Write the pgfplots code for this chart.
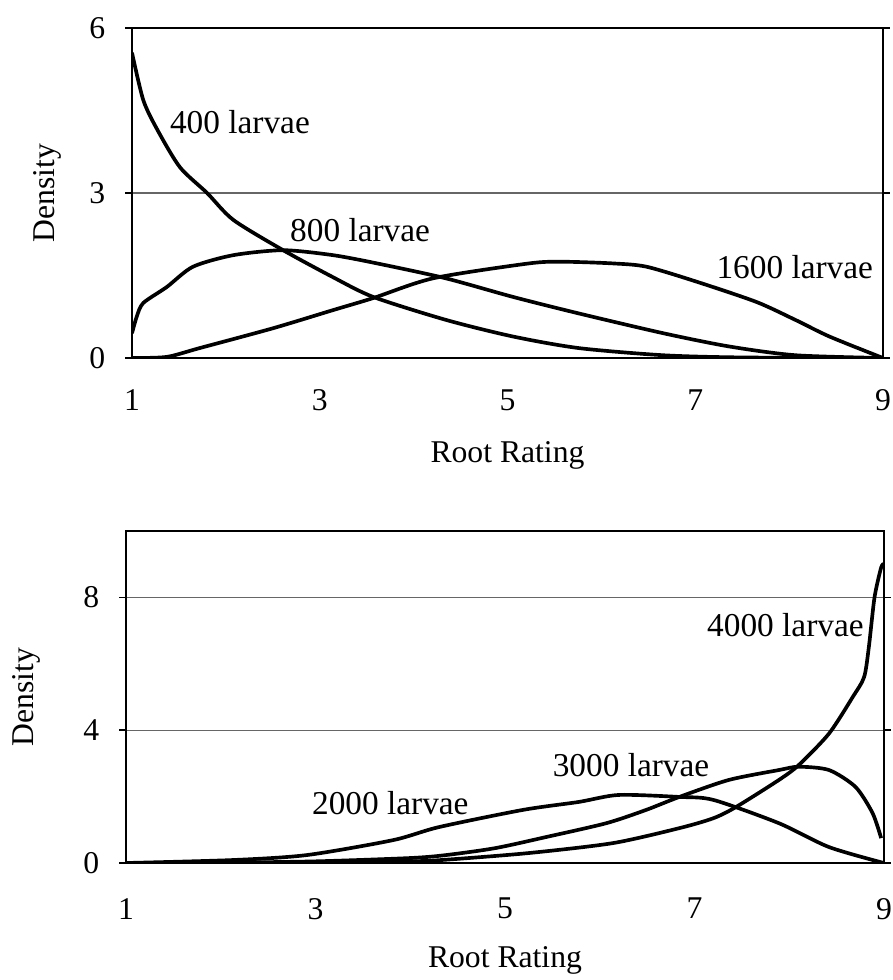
\documentclass[border=0pt]{standalone}
\usepackage{fontspec}
\setmainfont{Liberation Serif}
\usepackage{pgfplots}
\pgfplotsset{compat=1.18}

\tikzset{
  lab/.style={font=\fontsize{10}{12}\selectfont},
  crv/.style={black, line width=1.1pt, mark=none, smooth, tension=0.45},
}
\pgfplotsset{
  dens/.style={
    scale only axis,
    xmin=1, xmax=9, ymin=0,
    xtick={1,3,5,7,9},
    ymajorgrids,
    grid style={line width=0.35pt, black!60},
    axis line style={line width=0.7pt},
    tick style={line width=0.5pt, black},
    tick align=outside,
    major tick length=2pt,
    xtick style={draw=none},
    /pgf/number format/assume math mode=true,
    tick label style={font=\fontsize{9.5}{11}\selectfont},
    label style={font=\fontsize{9.5}{11}\selectfont},
    yticklabel style={xshift=-2.5pt},
  },
}

\begin{document}
\begin{tikzpicture}
\useasboundingbox (0,0) rectangle ({892*0.3pt},{-980*0.3pt});

% top panel
\begin{axis}[dens,
  at={({132*0.3pt},{-358*0.3pt})}, anchor=south west,
  width=225.3pt, height=99pt,
  ymax=6, ytick={0,3,6},
  xticklabel style={yshift=-4pt},
  xlabel={Root Rating}, ylabel={Density},
  xlabel style={at={(axis description cs:0.5,-0.296)}, anchor=center},
  ylabel style={at={(axis description cs:-0.113,0.5)}, anchor=center},
]
\addplot[crv] coordinates {(1,5.55)(1.12,4.69)(1.27,4.15)(1.51,3.47)(1.80,3.0)(2.08,2.51)(2.61,1.96)(3.14,1.47)(3.57,1.11)(4.35,0.69)(5.06,0.39)(5.76,0.18)(6.66,0.05)(7.5,0.01)(9,0)};
\addplot[crv] coordinates {(1,0.45)(1.05,0.75)(1.12,1.0)(1.37,1.29)(1.65,1.66)(2.08,1.87)(2.61,1.96)(3.14,1.87)(3.61,1.72)(4.34,1.45)(5.06,1.11)(5.76,0.81)(6.66,0.45)(7.36,0.21)(8.07,0.05)(9,0)};
\addplot[crv] coordinates {(1,0)(1.37,0.02)(1.72,0.18)(2.5,0.54)(3.14,0.87)(3.57,1.09)(4.21,1.45)(5.23,1.72)(5.59,1.75)(6.12,1.72)(6.48,1.66)(7.01,1.39)(7.65,1.02)(8.07,0.69)(8.43,0.39)(9,0)};
\node[lab] at (axis cs:2.15,4.29) {400 larvae};
\node[lab] at (axis cs:3.43,2.33) {800 larvae};
\node[lab] at (axis cs:8.06,1.66) {1600 larvae};
\end{axis}

% bottom panel
\begin{axis}[dens,
  at={({126*0.3pt},{-863*0.3pt})}, anchor=south west,
  width=227.4pt, height=99.6pt,
  ymax=10, ytick={0,4,8},
  xticklabel style={yshift=-5pt},
  xlabel={Root Rating}, ylabel={Density},
  xlabel style={at={(axis description cs:0.5,-0.292)}, anchor=center},
  ylabel style={at={(axis description cs:-0.132,0.5)}, anchor=center},
]
\addplot[crv] coordinates {(1,0)(2.13,0.09)(2.91,0.24)(3.82,0.69)(4.3,1.08)(5.19,1.60)(5.78,1.84)(6.2,2.05)(6.84,1.99)(7.2,1.9)(7.89,1.20)(8.42,0.48)(9,0)};
\addplot[crv] coordinates {(1,0)(2,0.01)(3,0.05)(4,0.15)(4.38,0.24)(4.9,0.45)(5.43,0.78)(6.07,1.2)(6.49,1.6)(6.84,1.99)(7.36,2.5)(7.89,2.8)(8.1,2.9)(8.42,2.8)(8.7,2.29)(8.88,1.5)(8.97,0.75)};
\addplot[crv] coordinates {(1,0)(3,0.01)(4,0.05)(4.38,0.1)(5.25,0.3)(6.14,0.6)(6.84,1.05)(7.2,1.35)(7.44,1.69)(7.89,2.5)(8.1,2.95)(8.42,3.9)(8.67,5.0)(8.79,5.6)(8.84,6.5)(8.9,8.0)(8.97,8.9)(9,9.0)};
\node[lab] at (axis cs:3.79,1.81) {2000 larvae};
\node[lab] at (axis cs:6.33,2.95) {3000 larvae};
\node[lab] at (axis cs:7.96,7.17) {4000 larvae};
\end{axis}
\end{tikzpicture}
\end{document}
